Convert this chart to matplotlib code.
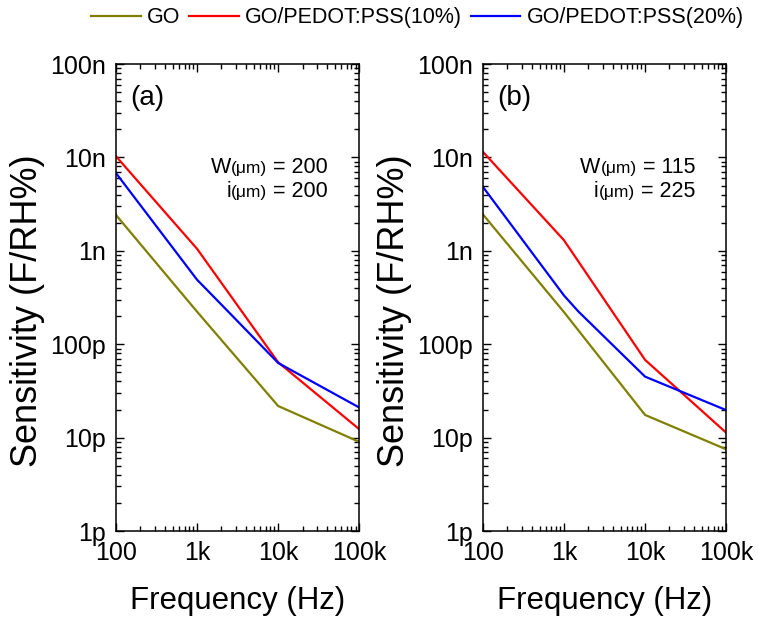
import matplotlib
matplotlib.use("Agg")
import matplotlib.pyplot as plt
from matplotlib.ticker import FixedLocator, FixedFormatter, LogLocator, NullFormatter
from matplotlib.offsetbox import TextArea, HPacker, AnchoredOffsetbox

plt.rcParams['font.family'] = ['Liberation Sans', 'DejaVu Sans']

# data (frequency in Hz, sensitivity in F/RH%)
freq = [100, 1e3, 1e4, 1e5]
freq_a20 = [100, 1e3, 2e3, 1e4, 1e5]
freq_b20 = [100, 1e3, 1.5e3, 1e4, 1e5]

a_go = [2.42e-9, 2.23e-10, 2.18e-11, 9.0e-12]
a_p10 = [1.03e-8, 1.05e-9, 6.4e-11, 1.23e-11]
a_p20 = [6.8e-9, 4.9e-10, 2.65e-10, 6.3e-11, 2.1e-11]

b_go = [2.46e-9, 2.21e-10, 1.75e-11, 7.5e-12]
b_p10 = [1.15e-8, 1.3e-9, 6.8e-11, 1.13e-11]
b_p20 = [4.85e-9, 3.33e-10, 2.25e-10, 4.5e-11, 1.97e-11]

labels = ["GO", "GO/PEDOT:PSS(10%)", "GO/PEDOT:PSS(20%)"]
colors = ["#808000", "#ff0000", "#0000ff"]

xticks = [100, 1e3, 1e4, 1e5]
xtick_labels = ["100", "1k", "10k", "100k"]
yticks = [1e-12, 1e-11, 1e-10, 1e-9, 1e-8, 1e-7]
ytick_labels = ["1p", "10p", "100p", "1n", "10n", "100n"]

panels = [
    ("(a)", [(freq, a_go), (freq, a_p10), (freq_a20, a_p20)], "200", "200"),
    ("(b)", [(freq, b_go), (freq, b_p10), (freq_b20, b_p20)], "115", "225"),
]

fig = plt.figure(figsize=(7.58, 6.2), dpi=100)
lefts = [0.153, 0.637]
axes = []
for left, (tag, series, w, i) in zip(lefts, panels):
    ax = fig.add_axes([left, 0.1435, 0.321, 0.7532])
    axes.append(ax)
    for (x, y), lab, c in zip(series, labels, colors):
        ax.plot(x, y, color=c, lw=1.6, label=lab)
    ax.set_xscale("log")
    ax.set_yscale("log")
    ax.set_xlim(100, 1e5)
    ax.set_ylim(1e-12, 1e-7)
    ax.xaxis.set_major_locator(FixedLocator(xticks))
    ax.xaxis.set_major_formatter(FixedFormatter(xtick_labels))
    ax.yaxis.set_major_locator(FixedLocator(yticks))
    ax.yaxis.set_major_formatter(FixedFormatter(ytick_labels))
    for axis in (ax.xaxis, ax.yaxis):
        axis.set_minor_locator(LogLocator(base=10, subs=range(2, 10), numticks=20))
        axis.set_minor_formatter(NullFormatter())
    ax.tick_params(which="both", direction="in", top=True, right=True,
                   width=1.0, labelsize=18, pad=7)
    ax.tick_params(which="major", length=6)
    ax.tick_params(which="minor", length=3.5)
    for s in ax.spines.values():
        s.set_linewidth(1.1)
    ax.set_xlabel("Frequency (Hz)", fontsize=22.5, labelpad=15)
    ax.set_ylabel("Sensitivity (F/RH%)", fontsize=26)
    ax.yaxis.set_label_coords(-0.29, 0.472)
    ax.text(0.058, 0.927, tag, transform=ax.transAxes, fontsize=20,
            va="center", ha="left")

    for val, sym, ypos in ((w, "W", 0.779), (i, "i", 0.726)):
        box = HPacker(children=[
            TextArea(sym, textprops=dict(fontsize=15.5)),
            TextArea("(\u03bcm)", textprops=dict(fontsize=12.5)),
            TextArea(" = " + val, textprops=dict(fontsize=15.5)),
        ], align="baseline", pad=0, sep=0)
        anch = AnchoredOffsetbox(loc="center right", child=box, pad=0, borderpad=0,
                                 frameon=False, bbox_to_anchor=(0.872, ypos),
                                 bbox_transform=ax.transAxes)
        ax.add_artist(anch)

handles, labs = axes[0].get_legend_handles_labels()
fig.legend(handles, labs, loc="center", bbox_to_anchor=(0.551, 0.971), ncol=3,
           frameon=False, fontsize=15.5, handlelength=2.3, handletextpad=0.3,
           columnspacing=0.4, borderpad=0)

fig.savefig("out.png", dpi=100)
